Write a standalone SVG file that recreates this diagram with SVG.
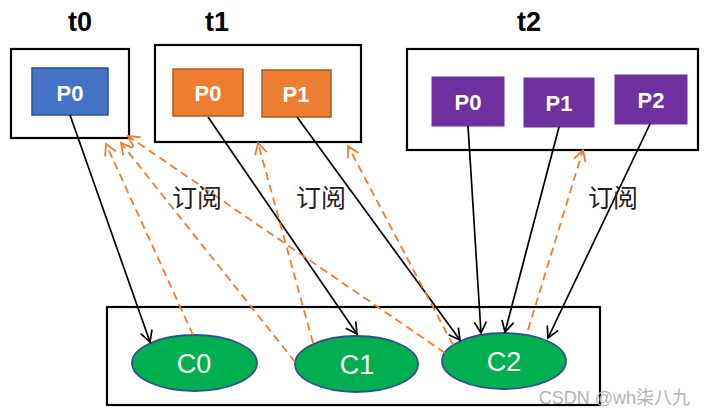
<svg xmlns="http://www.w3.org/2000/svg" width="706" height="416" viewBox="0 0 706 416">
<style>
.box{fill:none;stroke:#000;stroke-width:2.2}
.tl{font-family:"Liberation Sans",Arial,sans-serif;font-weight:bold;font-size:27px;fill:#000;text-anchor:middle}
.pl{font-family:"Liberation Sans",Arial,sans-serif;font-weight:bold;font-size:22px;fill:#fff;text-anchor:middle}
.cl{font-family:"Liberation Sans",Arial,sans-serif;font-size:27px;fill:#fff;text-anchor:middle}
.sub{font-family:"Liberation Sans","Noto Sans CJK SC",sans-serif;font-size:25px;fill:#222;text-anchor:middle}
.blue{fill:#4472C4;stroke:#2F528F;stroke-width:1.5}
.orange{fill:#ED7D31;stroke:#AE5A21;stroke-width:1.5}
.purple{fill:#7030A0;stroke:#7030A0;stroke-width:1}
.cons{fill:#00B050;stroke:#2F528F;stroke-width:1.8}
.solid{stroke:#000;stroke-width:1.7;fill:none;marker-end:url(#ab)}
.dash{stroke:#ED7D31;stroke-width:1.8;fill:none;stroke-dasharray:8,5;marker-end:url(#ao)}
.wm{font-family:"Liberation Sans","Noto Sans CJK SC",sans-serif;font-size:18px;fill:#b4b4b4;text-anchor:end}
</style>
<defs>
<marker id="ab" viewBox="-12 -8 14 16" refX="0" refY="0" markerWidth="14" markerHeight="16" markerUnits="userSpaceOnUse" orient="auto">
<path d="M-11,-6 L0,0 L-11,6" fill="none" stroke="#000" stroke-width="1.7"/>
</marker>
<marker id="ao" viewBox="-12 -8 14 16" refX="0" refY="0" markerWidth="14" markerHeight="16" markerUnits="userSpaceOnUse" orient="auto">
<path d="M-11,-6 L0,0 L-11,6" fill="none" stroke="#ED7D31" stroke-width="1.8"/>
</marker>
</defs>
<rect width="706" height="416" fill="#fff"/>

<g id="topic-t0">
<text class="tl" x="80" y="31">t0</text>
<rect class="box" x="11" y="49" width="118" height="89"/>
<g id="t0-p0"><rect class="blue" x="32" y="68" width="76" height="47"/><text class="pl" x="70" y="101">P0</text></g>
</g>

<g id="topic-t1">
<text class="tl" x="217" y="31">t1</text>
<rect class="box" x="155" y="45" width="206" height="97"/>
<g id="t1-p0"><rect class="orange" x="173" y="69" width="70" height="47"/><text class="pl" x="208" y="101">P0</text></g>
<g id="t1-p1"><rect class="orange" x="262" y="70" width="69" height="47"/><text class="pl" x="296" y="102">P1</text></g>
</g>

<g id="topic-t2">
<text class="tl" x="529" y="31">t2</text>
<rect class="box" x="407" y="49" width="291" height="101"/>
<g id="t2-p0"><rect class="purple" x="432" y="77" width="72" height="49"/><text class="pl" x="468" y="110">P0</text></g>
<g id="t2-p1"><rect class="purple" x="524" y="78" width="70" height="49"/><text class="pl" x="559" y="111">P1</text></g>
<g id="t2-p2"><rect class="purple" x="615" y="75" width="72" height="49"/><text class="pl" x="651" y="108">P2</text></g>
</g>

<g id="consumer-group">
<rect class="box" x="107" y="307" width="493" height="98"/>
<g id="c0"><ellipse class="cons" cx="194.5" cy="363" rx="62.5" ry="28"/><text class="cl" x="194" y="373">C0</text></g>
<g id="c1"><ellipse class="cons" cx="356.5" cy="364" rx="61.5" ry="28"/><text class="cl" x="357" y="374">C1</text></g>
<g id="c2"><ellipse class="cons" cx="504" cy="361" rx="62" ry="28"/><text class="cl" x="504" y="371">C2</text></g>
</g>

<g id="connectors">
<line class="solid" x1="70" y1="115" x2="150" y2="342"/>
<line class="solid" x1="208" y1="117" x2="357" y2="334"/>
<line class="solid" x1="297" y1="117" x2="460" y2="340"/>
<line class="solid" x1="468" y1="126" x2="481" y2="333"/>
<line class="solid" x1="559" y1="127" x2="505" y2="332"/>
<line class="solid" x1="650" y1="124" x2="548" y2="338"/>
<line class="dash" x1="193" y1="335" x2="106" y2="144"/>
<line class="dash" x1="295" y1="362" x2="121" y2="143"/>
<line class="dash" x1="445" y1="353" x2="128" y2="136"/>
<line class="dash" x1="313" y1="343" x2="258" y2="143"/>
<line class="dash" x1="453" y1="345" x2="348" y2="146"/>
<line class="dash" x1="528" y1="330" x2="583" y2="150"/>
</g>

<g id="labels">
<text class="sub" x="197" y="207">订阅</text>
<text class="sub" x="321" y="207">订阅</text>
<text class="sub" x="613" y="207">订阅</text>
</g>
<text class="wm" x="690" y="404">CSDN @wh柒八九</text>
</svg>
